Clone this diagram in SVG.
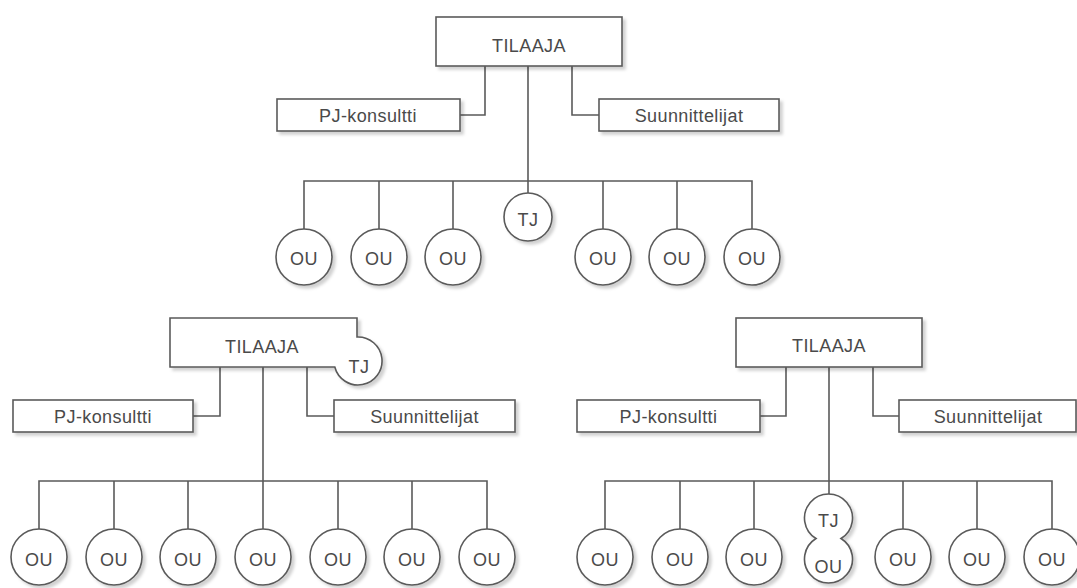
<svg xmlns="http://www.w3.org/2000/svg" width="1077" height="588" viewBox="0 0 1077 588">
<defs>
<filter id="sh" x="-20%" y="-20%" width="140%" height="150%">
<feDropShadow dx="3" dy="3" stdDeviation="1.5" flood-color="#000" flood-opacity="0.18"/>
</filter>
<style>
.n{fill:#fff;stroke:#5a5a5a;stroke-width:1.6;filter:url(#sh)}
.c{fill:none;stroke:#5a5a5a;stroke-width:1.6}
text{font-family:"Liberation Sans",Arial,sans-serif;font-size:18px;fill:#4a4a4a;text-anchor:middle;letter-spacing:0.4px}
</style>
</defs>
<rect width="1077" height="588" fill="#fff"/>

<g id="connectors">
<!-- top -->
<path class="c" d="M528,66 V193 M485,66 V115 H460 M572,66 V115 H599 M304,229 V181 H752 V229 M379,181 V229 M453,181 V229 M603,181 V229 M677,181 V229"/>
<!-- bottom-left -->
<path class="c" d="M263,367 V529 M220,367 V416 H193 M307,367 V416 H334 M39,529 V481 H487 V529 M114,481 V529 M188,481 V529 M338,481 V529 M412,481 V529"/>
<!-- bottom-right -->
<path class="c" d="M829,367 V494 M786,367 V416 H760 M873,367 V416 H899 M605,529 V481 H1052 V529 M680,481 V529 M754,481 V529 M903,481 V529 M977,481 V529"/>
</g>

<!-- top diagram -->
<g id="t-tilaaja"><rect class="n" x="436" y="17" width="186" height="49"/><text x="529" y="52">TILAAJA</text></g>
<g id="t-pj"><rect class="n" x="277" y="99" width="183" height="32"/><text x="368" y="121.5">PJ-konsultti</text></g>
<g id="t-suun"><rect class="n" x="599" y="99" width="180" height="32"/><text x="689" y="121.5">Suunnittelijat</text></g>
<g id="t-tj"><circle class="n" cx="528" cy="217" r="24"/><text x="528" y="226">TJ</text></g>
<g id="t-ou1"><circle class="n" cx="304" cy="257" r="28"/><text x="304" y="265">OU</text></g>
<g id="t-ou2"><circle class="n" cx="379" cy="257" r="28"/><text x="379" y="265">OU</text></g>
<g id="t-ou3"><circle class="n" cx="453" cy="257" r="28"/><text x="453" y="265">OU</text></g>
<g id="t-ou4"><circle class="n" cx="603" cy="257" r="28"/><text x="603" y="265">OU</text></g>
<g id="t-ou5"><circle class="n" cx="677" cy="257" r="28"/><text x="677" y="265">OU</text></g>
<g id="t-ou6"><circle class="n" cx="752" cy="257" r="28"/><text x="752" y="265">OU</text></g>

<!-- bottom-left diagram -->
<g id="l-tilaaja"><path class="n" d="M170,318 H357 V337 A24,24 0 1 1 334.8,367 H170 Z"/><text x="262" y="353">TILAAJA</text><text x="359" y="373">TJ</text></g>
<g id="l-pj"><rect class="n" x="13" y="400" width="180" height="32"/><text x="103" y="422.5">PJ-konsultti</text></g>
<g id="l-suun"><rect class="n" x="334" y="400" width="181" height="32"/><text x="424.5" y="422.5">Suunnittelijat</text></g>
<g id="l-ou1"><circle class="n" cx="39" cy="557" r="28"/><text x="39" y="566">OU</text></g>
<g id="l-ou2"><circle class="n" cx="114" cy="557" r="28"/><text x="114" y="566">OU</text></g>
<g id="l-ou3"><circle class="n" cx="188" cy="557" r="28"/><text x="188" y="566">OU</text></g>
<g id="l-ou4"><circle class="n" cx="263" cy="557" r="28"/><text x="263" y="566">OU</text></g>
<g id="l-ou5"><circle class="n" cx="338" cy="557" r="28"/><text x="338" y="566">OU</text></g>
<g id="l-ou6"><circle class="n" cx="412" cy="557" r="28"/><text x="412" y="566">OU</text></g>
<g id="l-ou7"><circle class="n" cx="487" cy="557" r="28"/><text x="487" y="566">OU</text></g>

<!-- bottom-right diagram -->
<g id="r-tilaaja"><rect class="n" x="736" y="318" width="186" height="49"/><text x="829" y="352">TILAAJA</text></g>
<g id="r-pj"><rect class="n" x="577" y="400" width="183" height="32"/><text x="668.5" y="422.5">PJ-konsultti</text></g>
<g id="r-suun"><rect class="n" x="899" y="400" width="177" height="32"/><text x="988" y="422.5">Suunnittelijat</text></g>
<g id="r-tjou"><path class="n" d="M816,538.5 A24,24 0 1 1 841,538.5 A24,24 0 1 1 816,538.5 Z"/><text x="828.5" y="527">TJ</text><text x="828.5" y="573">OU</text></g>
<g id="r-ou1"><circle class="n" cx="605" cy="557" r="28"/><text x="605" y="566">OU</text></g>
<g id="r-ou2"><circle class="n" cx="680" cy="557" r="28"/><text x="680" y="566">OU</text></g>
<g id="r-ou3"><circle class="n" cx="754" cy="557" r="28"/><text x="754" y="566">OU</text></g>
<g id="r-ou4"><circle class="n" cx="903" cy="557" r="28"/><text x="903" y="566">OU</text></g>
<g id="r-ou5"><circle class="n" cx="977" cy="557" r="28"/><text x="977" y="566">OU</text></g>
<g id="r-ou6"><circle class="n" cx="1052" cy="557" r="28"/><text x="1052" y="566">OU</text></g>
</svg>
